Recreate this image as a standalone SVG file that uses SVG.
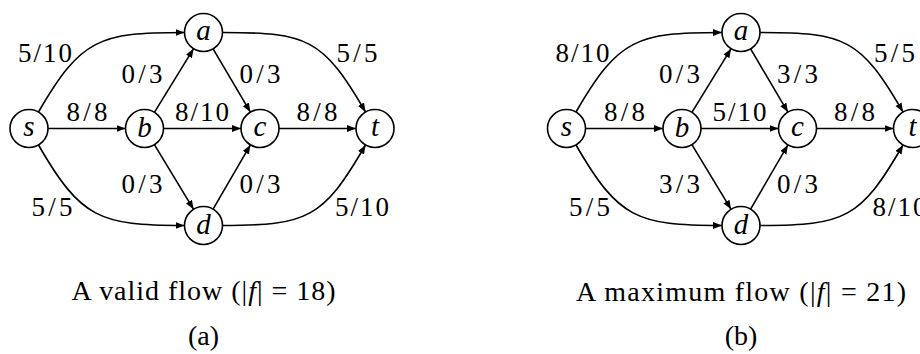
<svg xmlns="http://www.w3.org/2000/svg" width="920" height="354" viewBox="0 0 920 354">
<defs>
<marker id="arr" markerUnits="userSpaceOnUse" markerWidth="10" markerHeight="8" refX="9" refY="3.5" orient="auto">
<path d="M0,0 L9,3.5 L0,7 z" fill="#000"/>
</marker>
</defs>
<style>
.node circle{fill:#fff;stroke:#000;stroke-width:1.6}
.node text{font-style:italic;font-size:29px;text-anchor:middle;fill:#000}
.edge{fill:none;stroke:#000;stroke-width:1.6;marker-end:url(#arr)}
.lbl{font-size:27px;text-anchor:middle;fill:#000}
.cap{font-size:28px;text-anchor:middle;fill:#000}
</style>
<rect width="920" height="354" fill="#fff"/>

<g id="diagram-a" font-family="Liberation Serif, DejaVu Serif, serif">
<g id="connectors-a">
<path class="edge" d="M38.5,112 C81,38.4 99.5,32.5 184.5,32.5"/>
<path class="edge" d="M38.5,145 C81,218.6 99.5,225.5 184.5,225.5"/>
<path class="edge" d="M222.5,32.5 C307.5,32.5 323,38.4 365.5,112"/>
<path class="edge" d="M222.5,225.5 C307.5,225.5 323,218.6 365.5,145"/>
<path class="edge" d="M48,128.5 L125.5,128.5"/>
<path class="edge" d="M163.5,128.5 L241,128.5"/>
<path class="edge" d="M279,128.5 L356,128.5"/>
<path class="edge" d="M154.4,112.3 L193.6,48.7"/>
<path class="edge" d="M154.4,144.7 L193.6,209.3"/>
<path class="edge" d="M213.1,48.9 L250.4,112.1"/>
<path class="edge" d="M213.1,209.1 L250.4,144.9"/>
</g>
<g id="labels-a">
<text class="lbl" x="45" y="62" textLength="54">5/10</text>
<text class="lbl" x="357" y="62" textLength="41">5/5</text>
<text class="lbl" x="142" y="83" textLength="41">0/3</text>
<text class="lbl" x="260" y="83" textLength="41">0/3</text>
<text class="lbl" x="87" y="121" textLength="41">8/8</text>
<text class="lbl" x="202" y="121" textLength="54">8/10</text>
<text class="lbl" x="317" y="121" textLength="41">8/8</text>
<text class="lbl" x="142" y="193" textLength="41">0/3</text>
<text class="lbl" x="260" y="193" textLength="41">0/3</text>
<text class="lbl" x="52" y="216" textLength="41">5/5</text>
<text class="lbl" x="362" y="216" textLength="54">5/10</text>
</g>
<g id="a-s" class="node"><circle cx="29" cy="128.5" r="19"/><text x="29" y="136">s</text></g>
<g id="a-b" class="node"><circle cx="144.5" cy="128.5" r="19"/><text x="144.5" y="137">b</text></g>
<g id="a-a" class="node"><circle cx="203.5" cy="32.5" r="19"/><text x="203.5" y="39.5">a</text></g>
<g id="a-c" class="node"><circle cx="260" cy="128.5" r="19"/><text x="260" y="136">c</text></g>
<g id="a-t" class="node"><circle cx="375" cy="128.5" r="19"/><text x="375" y="136">t</text></g>
<g id="a-d" class="node"><circle cx="203.5" cy="225.5" r="19"/><text x="203.5" y="234">d</text></g>
<text class="cap" x="203.5" y="300" textLength="264">A valid flow (|<tspan font-style="italic">f</tspan>| = 18)</text>
<text class="cap" x="203.5" y="345">(a)</text>
</g>

<g id="diagram-b" font-family="Liberation Serif, DejaVu Serif, serif">
<g id="connectors-b" transform="translate(537.5,0)">
<path class="edge" d="M38.5,112 C81,38.4 99.5,32.5 184.5,32.5"/>
<path class="edge" d="M38.5,145 C81,218.6 99.5,225.5 184.5,225.5"/>
<path class="edge" d="M222.5,32.5 C307.5,32.5 323,38.4 365.5,112"/>
<path class="edge" d="M222.5,225.5 C307.5,225.5 323,218.6 365.5,145"/>
<path class="edge" d="M48,128.5 L125.5,128.5"/>
<path class="edge" d="M163.5,128.5 L241,128.5"/>
<path class="edge" d="M279,128.5 L356,128.5"/>
<path class="edge" d="M154.4,112.3 L193.6,48.7"/>
<path class="edge" d="M154.4,144.7 L193.6,209.3"/>
<path class="edge" d="M213.1,48.9 L250.4,112.1"/>
<path class="edge" d="M213.1,209.1 L250.4,144.9"/>
</g>
<g id="labels-b" transform="translate(537.5,0)">
<text class="lbl" x="45" y="62" textLength="54">8/10</text>
<text class="lbl" x="357" y="62" textLength="41">5/5</text>
<text class="lbl" x="142" y="83" textLength="41">0/3</text>
<text class="lbl" x="260" y="83" textLength="41">3/3</text>
<text class="lbl" x="87" y="121" textLength="41">8/8</text>
<text class="lbl" x="202" y="121" textLength="54">5/10</text>
<text class="lbl" x="317" y="121" textLength="41">8/8</text>
<text class="lbl" x="142" y="193" textLength="41">3/3</text>
<text class="lbl" x="260" y="193" textLength="41">0/3</text>
<text class="lbl" x="52" y="216" textLength="41">5/5</text>
<text class="lbl" x="362" y="216" textLength="54">8/10</text>
</g>
<g transform="translate(537.5,0)">
<g id="b-s" class="node"><circle cx="29" cy="128.5" r="19"/><text x="29" y="136">s</text></g>
<g id="b-b" class="node"><circle cx="144.5" cy="128.5" r="19"/><text x="144.5" y="137">b</text></g>
<g id="b-a" class="node"><circle cx="203.5" cy="32.5" r="19"/><text x="203.5" y="39.5">a</text></g>
<g id="b-c" class="node"><circle cx="260" cy="128.5" r="19"/><text x="260" y="136">c</text></g>
<g id="b-t" class="node"><circle cx="375" cy="128.5" r="19"/><text x="375" y="136">t</text></g>
<g id="b-d" class="node"><circle cx="203.5" cy="225.5" r="19"/><text x="203.5" y="234">d</text></g>
</g>
<text class="cap" x="741" y="301" textLength="330">A maximum flow (|<tspan font-style="italic">f</tspan>| = 21)</text>
<text class="cap" x="741" y="345">(b)</text>
</g>
</svg>
